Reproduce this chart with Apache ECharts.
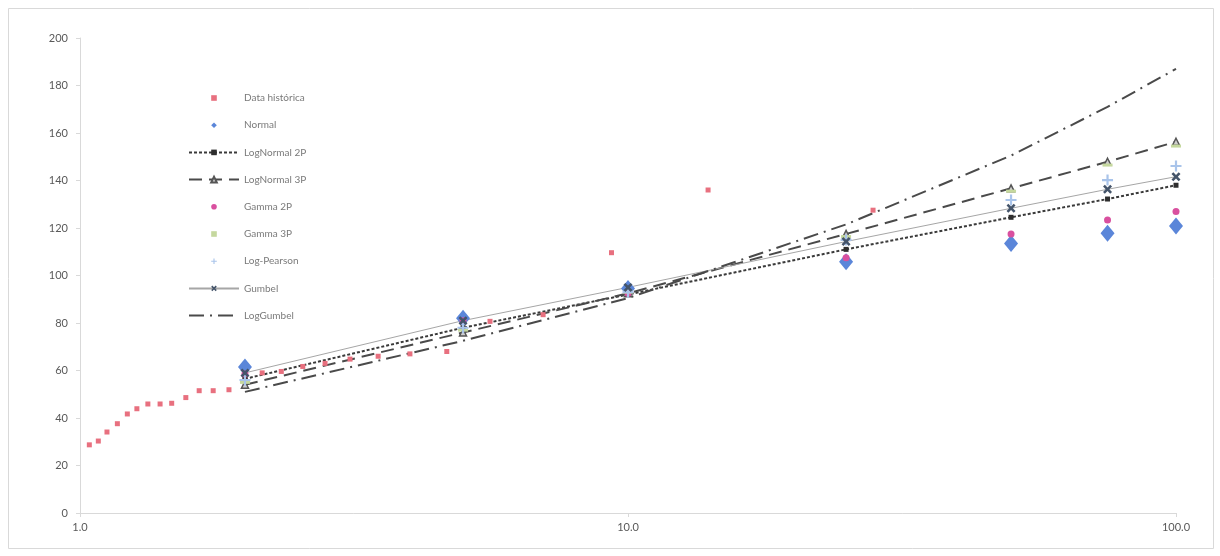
<!DOCTYPE html>
<html>
<head>
<meta charset="utf-8">
<script src="https://cdn.jsdelivr.net/npm/echarts@6/dist/echarts.min.js"></script>
<style>
  html, body { margin: 0; padding: 0; background: #ffffff; }
  #chart { width: 1220px; height: 556px; }
</style>
</head>
<body>
<div id="chart"></div>
<script>
// Return periods (years) used by the fitted distributions
const returnPeriods = [2, 5, 10, 25, 50, 75, 100];

// Historical maxima with their plotting-position return periods
const histPeriods = [1.04, 1.08, 1.12, 1.17, 1.22, 1.27, 1.33, 1.40, 1.47, 1.56, 1.65, 1.75, 1.87,
                     2.00, 2.15, 2.33, 2.55, 2.80, 3.11, 3.50, 4.00, 4.67, 5.60, 7.00, 9.33, 14.0, 28.0];
const histValues  = [28.7, 30.3, 34.1, 37.6, 41.7, 43.9, 45.9, 45.9, 46.2, 48.6, 51.5, 51.5, 51.9,
                     57.5, 59.0, 59.6, 61.7, 63.0, 64.8, 66.0, 67.0, 68.0, 80.7, 83.5, 109.6, 136.0, 127.5];

// Fitted quantiles for each distribution
const normalVals      = [61.5, 82.0, 94.5, 105.8, 113.5, 117.8, 120.8];
const logNormal2PVals = [56.5, 78.0, 92.0, 111.0, 124.5, 132.2, 138.0];
const logNormal3PVals = [54.0, 76.0, 92.5, 117.5, 136.7, 147.9, 156.3];
const gamma2PVals     = [58.5, 81.0, 92.5, 107.5, 117.5, 123.4, 126.9];
const gamma3PVals     = [55.0, 77.0, 93.0, 116.4, 135.5, 146.5, 154.5];
const logPearsonVals  = [56.0, 78.0, 93.0, 115.0, 131.8, 140.2, 146.1];
const gumbelVals      = [59.0, 81.0, 95.0, 114.3, 128.3, 136.3, 141.6];
const logGumbelVals   = [51.0, 72.5, 90.5, 121.5, 150.5, 171.0, 187.0];

const yTicks = { min: 0, max: 200, interval: 20 };
const legendNames = ['Data histórica', 'Normal', 'LogNormal 2P', 'LogNormal 3P', 'Gamma 2P',
                     'Gamma 3P', 'Log-Pearson', 'Gumbel', 'LogGumbel'];

const pairs = (xs, ys) => xs.map((x, i) => [x, ys[i]]);

const xMarkPath = 'path://M2,0L5,3L8,0L10,2L7,5L10,8L8,10L5,7L2,10L0,8L3,5L0,2Z';
const plusPath  = 'path://M4,0H6V4H10V6H6V10H4V6H0V4H4Z';

// Marker-only series are drawn as lines with no stroke so that the
// legend shows a small centred symbol rather than a stretched one.
const markerOnly = { width: 0, opacity: 0 };

const chart = echarts.init(document.getElementById('chart'), null, { renderer: 'canvas' });

chart.setOption({
  animation: false,
  backgroundColor: '#ffffff',
  textStyle: { fontFamily: 'Lato, "Open Sans", sans-serif' },
  graphic: [{
    type: 'rect',
    shape: { x: 8.5, y: 8.5, width: 1205, height: 540 },
    style: { fill: 'none', stroke: '#d9d9d9', lineWidth: 1 },
    silent: true
  }],
  grid: { left: 80, right: 44, top: 38, bottom: 43 },
  legend: {
    orient: 'vertical',
    left: 183,
    top: 88,
    itemWidth: 50,
    itemHeight: 7,
    itemGap: 17.2,
    textStyle: { color: '#7a7a7a', fontSize: 10, fontFamily: 'Lato, "Open Sans", sans-serif' },
    data: legendNames
  },
  xAxis: {
    type: 'log',
    logBase: 10,
    min: 1,
    max: 100,
    axisLine: { lineStyle: { color: '#d9d9d9', width: 1 } },
    axisTick: { show: true, length: 4, lineStyle: { color: '#d9d9d9' } },
    minorTick: { show: false },
    splitLine: { show: false },
    axisLabel: {
      color: '#595959', fontSize: 11, margin: 9,
      formatter: v => Number(v).toFixed(1)
    }
  },
  yAxis: {
    type: 'value',
    min: yTicks.min,
    max: yTicks.max,
    interval: yTicks.interval,
    axisLine: { show: true, lineStyle: { color: '#d9d9d9', width: 1 } },
    axisTick: { show: true, length: 4, lineStyle: { color: '#d9d9d9' } },
    splitLine: { show: false },
    axisLabel: { color: '#595959', fontSize: 11, margin: 12 }
  },
  series: [
    {
      name: 'Data histórica', type: 'line',
      data: pairs(histPeriods, histValues),
      symbol: 'rect', symbolSize: 5,
      lineStyle: markerOnly,
      itemStyle: { color: '#e8707f', borderWidth: 0 }
    },
    {
      name: 'Normal', type: 'line',
      data: pairs(returnPeriods, normalVals),
      symbol: 'diamond', symbolSize: [14, 17],
      lineStyle: markerOnly,
      itemStyle: { color: '#5b86d9', borderWidth: 0 }
    },
    {
      name: 'LogNormal 2P', type: 'line',
      data: pairs(returnPeriods, logNormal2PVals),
      symbol: 'rect', symbolSize: 5,
      lineStyle: { color: '#3a3a3a', width: 2, type: [3, 2] },
      itemStyle: { color: '#2e2e2e', borderWidth: 0 }
    },
    {
      name: 'LogNormal 3P', type: 'line',
      data: pairs(returnPeriods, logNormal3PVals),
      symbol: 'triangle', symbolSize: 7,
      lineStyle: { color: '#4a4a4a', width: 2, type: [13, 7] },
      itemStyle: { color: '#cfcfcf', borderColor: '#555555', borderWidth: 1.5 }
    },
    {
      name: 'Gamma 2P', type: 'line',
      data: pairs(returnPeriods, gamma2PVals),
      symbol: 'circle', symbolSize: 7,
      lineStyle: markerOnly,
      itemStyle: { color: '#d9509f', borderWidth: 0 }
    },
    {
      name: 'Gamma 3P', type: 'line',
      data: pairs(returnPeriods, gamma3PVals),
      symbol: 'rect', symbolSize: [10, 3],
      lineStyle: markerOnly,
      itemStyle: { color: '#c5d89e', borderWidth: 0 }
    },
    {
      name: 'Log-Pearson', type: 'line',
      data: pairs(returnPeriods, logPearsonVals),
      symbol: plusPath, symbolSize: 11,
      lineStyle: markerOnly,
      itemStyle: { color: '#a9c4ea', borderWidth: 0 }
    },
    {
      name: 'Gumbel', type: 'line',
      data: pairs(returnPeriods, gumbelVals),
      symbol: xMarkPath, symbolSize: 9,
      lineStyle: { color: '#a6a6a6', width: 1 },
      itemStyle: { color: '#44546a', borderWidth: 0 }
    },
    {
      name: 'LogGumbel', type: 'line',
      data: pairs(returnPeriods, logGumbelVals),
      showSymbol: false, symbol: 'circle',
      lineStyle: { color: '#4a4a4a', width: 2, type: [15, 6, 2, 6] },
      itemStyle: { color: 'rgba(0,0,0,0)', borderWidth: 0 }
    }
  ]
});
</script>
</body>
</html>
